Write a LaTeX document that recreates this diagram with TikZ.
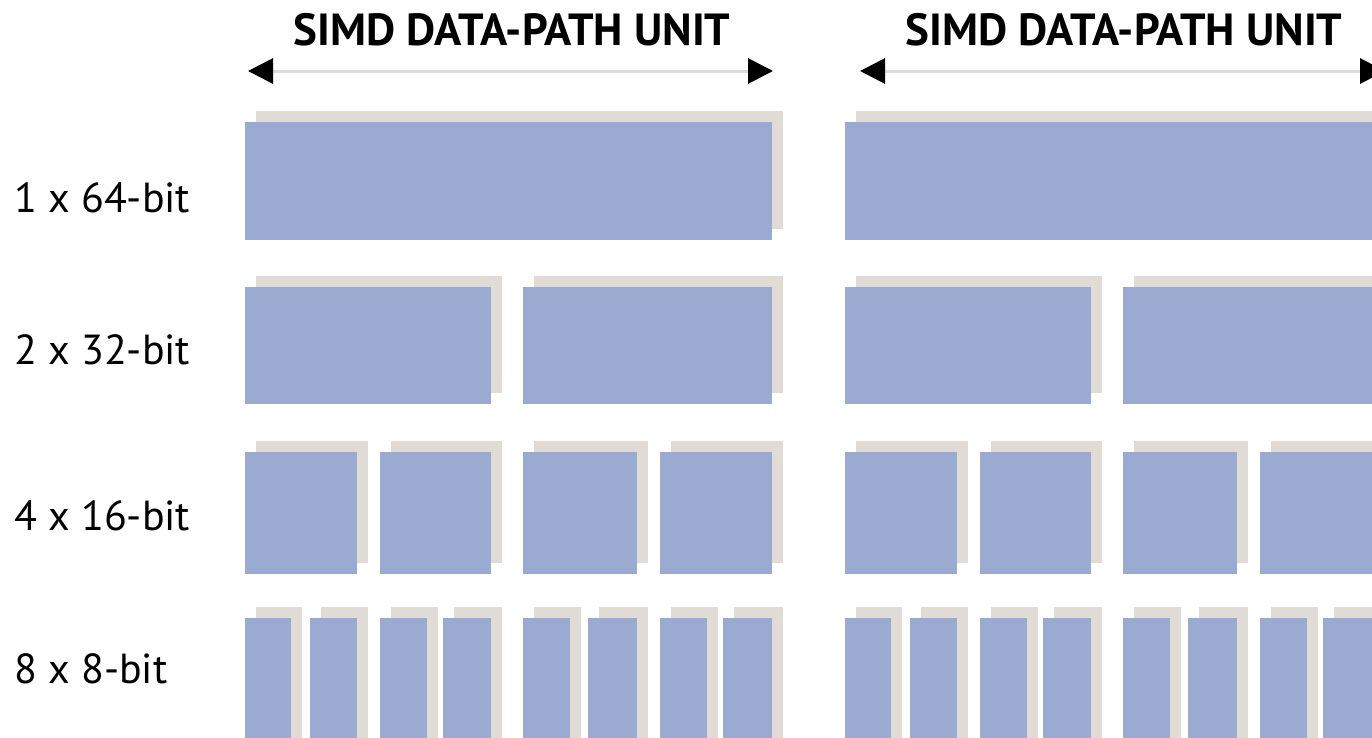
\documentclass[tikz,border=0pt]{standalone}
\usepackage{fontspec}
\setmainfont{PT Sans}
\usetikzlibrary{arrows.meta,shadows}
\definecolor{laneblue}{HTML}{9BAAD0}
\definecolor{laneshade}{HTML}{E0DBD4}
\definecolor{rulegray}{HTML}{DCDCDC}
\tikzset{
  lane/.style={rectangle, anchor=north west, inner sep=0pt, outer sep=0pt,
    fill=laneblue, draw=none,
    general shadow={fill=laneshade, shadow xshift=11pt, shadow yshift=11pt}},
  widthlabel/.style={font=\bfseries\fontsize{45}{50}\selectfont, inner sep=0pt, anchor=base},
  rowlabel/.style={font=\fontsize{42}{48}\selectfont, inner sep=0pt, anchor=base west},
  span/.style={draw=rulegray, line width=3pt,
    {Triangle[length=25pt,width=25pt,color=black]}-{Triangle[length=25pt,width=25pt,color=black]}}
}
\begin{document}
\begin{tikzpicture}[x=1pt,y=-1pt]
  \clip (0,0) rectangle (1372,737);
  \fill[white] (0,0) rectangle (1372,737);

  % row labels
  \node[rowlabel] (l1) at (14,212) {1 x 64-bit};
  \node[rowlabel] (l2) at (14,364) {2 x 32-bit};
  \node[rowlabel] (l3) at (14,530) {4 x 16-bit};
  \node[rowlabel] (l4) at (14,683) {8 x 8-bit};

  % two data-path units, 600 apart
  \foreach \u/\ux/\ax in {a/0/0, b/600/612}{
    % unit width arrow and heading
    \coordinate (\u-left)  at (248+\ax,71);
    \coordinate (\u-right) at (773+\ax,71);
    \draw[span] (\u-left) -- (\u-right);
    \node[widthlabel] (\u-title) at (512+\ax,45) {SIMD DATA-PATH UNIT};

    % 1 x 64-bit
    \node[lane, minimum width=527pt, minimum height=118pt] (\u-r1-1) at (245+\ux,122) {};
    % 2 x 32-bit
    \foreach \k/\xa/\xb in {1/245/491, 2/523/772}
      \node[lane, minimum width=\xb-\xa pt, minimum height=117pt] (\u-r2-\k) at (\xa+\ux,287) {};
    % 4 x 16-bit
    \foreach \k/\xa/\xb in {1/245/357, 2/380/491, 3/523/637, 4/660/772}
      \node[lane, minimum width=\xb-\xa pt, minimum height=122pt] (\u-r3-\k) at (\xa+\ux,452) {};
    % 8 x 8-bit
    \foreach \k/\xa/\xb in {1/245/291, 2/310/357, 3/380/427, 4/443/491,
                            5/523/570, 6/588/637, 7/660/707, 8/723/772}
      \node[lane, minimum width=\xb-\xa pt, minimum height=150pt] (\u-r4-\k) at (\xa+\ux,618) {};
  }
\end{tikzpicture}
\end{document}
